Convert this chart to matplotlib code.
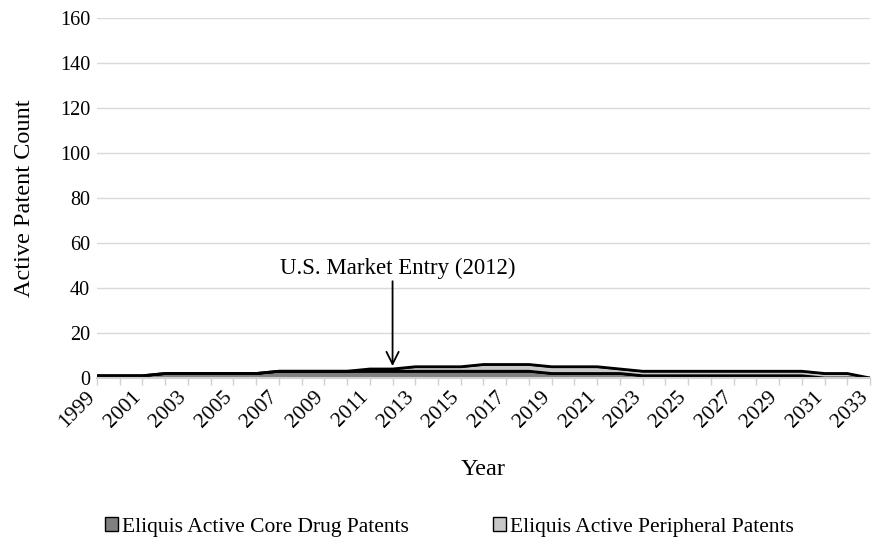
import numpy as np
import matplotlib.pyplot as plt
from matplotlib.transforms import offset_copy

plt.rcParams['font.family'] = ['Liberation Serif', 'DejaVu Serif']

# --- dati ---
years = list(range(1999, 2034))
core = [1, 1, 1, 2, 2, 2, 2, 2, 3, 3, 3, 3, 3, 3, 3, 3, 3, 3, 3, 3,
        2, 2, 2, 2, 1, 1, 1, 1, 1, 1, 1, 1, 0, 0, 0]
peripheral = [0, 0, 0, 0, 0, 0, 0, 0, 0, 0, 0, 0, 1, 1, 2, 2, 2, 3, 3, 3,
              3, 3, 3, 2, 2, 2, 2, 2, 2, 2, 2, 2, 2, 2, 0]
series_names = ['Eliquis Active Core Drug Patents', 'Eliquis Active Peripheral Patents']
entry_year = 2012
entry_label = 'U.S. Market Entry (2012)'

fig = plt.figure(figsize=(8.74, 5.44), dpi=100)
ax = fig.add_axes([97 / 874, 1 - 378 / 544, (870 - 97) / 874, 360 / 544])

x = np.array(years)
c = np.array(core)
p = np.array(peripheral)
ax.fill_between(x, 0, c, color='#808080', lw=0, label=series_names[0])
ax.fill_between(x, c, c + p, color='#c8c8c8', lw=0, label=series_names[1])
ax.plot(x, c, color='black', lw=2)
ax.plot(x, c + p, color='black', lw=2)

ax.set_xlim(1999, 2033)
ax.set_ylim(0, 160)
ax.set_yticks(range(0, 161, 20))
ax.set_xticks(years[::2])
ax.set_xticks(years, minor=True)
ax.set_xticklabels([])
# etichette anni ruotate, spostate un po' a sinistra come nell'originale
lab_tr = offset_copy(ax.get_xaxis_transform(), fig=fig, x=-8, y=-7, units='points')
for y in years[::2]:
    ax.text(y, 0, str(y), transform=lab_tr, rotation=45, ha='right', va='top',
            rotation_mode='anchor', fontsize=15.5)
ax.tick_params(axis='y', length=0, labelsize=14.5, pad=5)
ax.tick_params(axis='x', which='both', direction='out', length=5,
               color='#d0d0d0', width=1, pad=3)
ax.grid(axis='y', color='#d9d9d9', lw=1)
ax.set_axisbelow(True)
for s in ['left', 'right', 'top']:
    ax.spines[s].set_visible(False)
ax.spines['bottom'].set_color('#d0d0d0')
ax.spines['bottom'].set_linewidth(1.5)

ax.set_ylabel('Active Patent Count', fontsize=17.5, labelpad=18)
ax.set_xlabel('Year', fontsize=17.5, labelpad=50)

ax.annotate('', xy=(entry_year, 5.3), xytext=(entry_year, 43),
            arrowprops=dict(arrowstyle='->', color='black', lw=1.3,
                            shrinkA=0, shrinkB=0, mutation_scale=22))
ax.text(entry_year + 0.25, 48.8, entry_label, ha='center', va='center', fontsize=16.5)

handles, labels = ax.get_legend_handles_labels()
for h in handles:
    h.set_edgecolor('black')
    h.set_linewidth(1)
fig.legend(handles, labels, loc='center', bbox_to_anchor=(0.514, 1 - 527 / 544),
           ncol=2, frameon=False, fontsize=15.5, handlelength=0.6, handleheight=0.6,
           handletextpad=0.2, columnspacing=3.9)

fig.savefig('out.png', dpi=100)
